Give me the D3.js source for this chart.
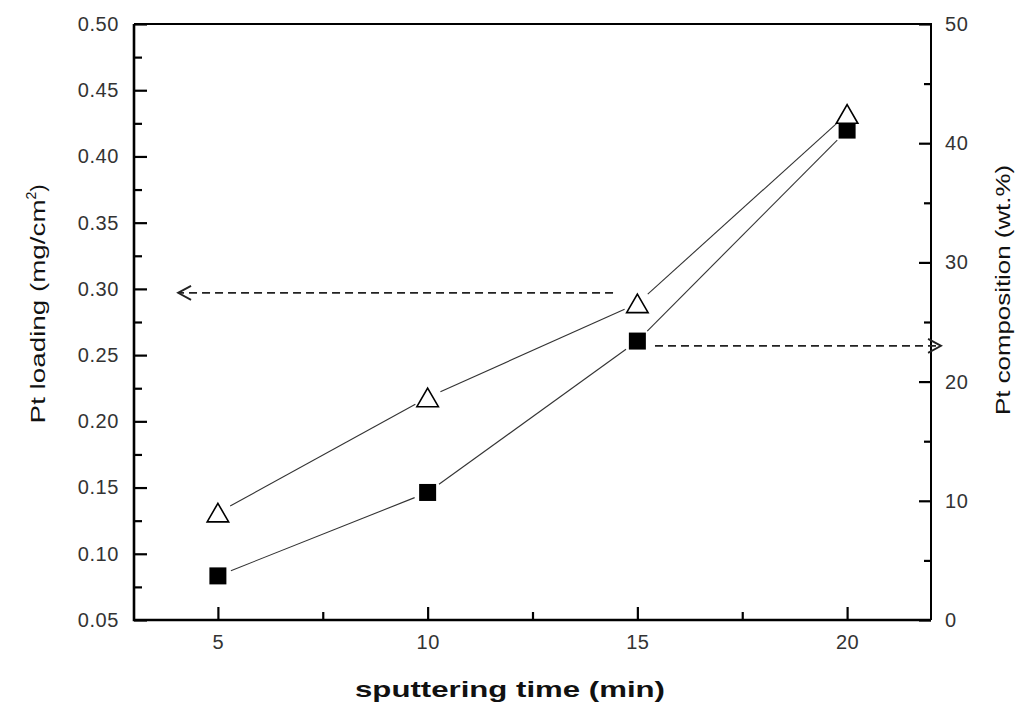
<!DOCTYPE html>
<html>
<head>
<meta charset="utf-8">
<script src="https://cdnjs.cloudflare.com/ajax/libs/d3/7.8.5/d3.min.js"></script>
<style>
  body { margin: 0; background: #fff; }
  svg { display: block; }
  .tick text { font-family: "Liberation Sans", Arial, sans-serif; font-size: 20px; fill: #333; letter-spacing: 0.6px; }
  .tick line { stroke: #000; stroke-width: 2.2; }
  .title { font-family: "Liberation Sans", Arial, sans-serif; fill: #111; }
</style>
</head>
<body>
<div id="chart"></div>
<script>
var width = 1025;
var height = 704;

// sputtering time (min)
var sputterTime = [5, 10, 15, 20];
// Pt loading (mg/cm2), open triangles, left axis
var ptLoading = [0.131, 0.218, 0.289, 0.432];
// Pt composition (wt.%), filled squares, right axis
var ptComposition = [3.7, 10.7, 23.4, 41.1];

var xTicks = [5, 10, 15, 20];
var xMinor = [7.5, 12.5, 17.5];
var leftTicks = [0.05, 0.10, 0.15, 0.20, 0.25, 0.30, 0.35, 0.40, 0.45, 0.50];
var leftMinor = [0.075, 0.125, 0.175, 0.225, 0.275, 0.325, 0.375, 0.425, 0.475];
var rightTicks = [0, 10, 20, 30, 40, 50];
var rightMinor = [5, 15, 25, 35, 45];

// arrows pointing at the axis each series belongs to
var loadingArrow = {x0: 14.42, x1: 4.05, y: 0.297};
var compositionArrow = {x0: 15.42, x1: 22.24, y: 23.0};

var margin = {top: 24, right: 94, bottom: 84, left: 134};

var svg = d3.select("#chart")
  .append("svg")
  .attr("width", width)
  .attr("height", height);

var xScale = d3.scaleLinear()
  .domain([3, 22])
  .range([margin.left, width - margin.right]);

var yLeft = d3.scaleLinear()
  .domain([0.05, 0.50])
  .range([height - margin.bottom, margin.top]);

var yRight = d3.scaleLinear()
  .domain([0, 50])
  .range([height - margin.bottom, margin.top]);

var bottomY = height - margin.bottom;
var rightX = width - margin.right;

function noDomain(g) { g.select(".domain").remove(); }

// bottom axis, ticks inward
svg.append("g")
  .attr("transform", "translate(0," + bottomY + ")")
  .call(d3.axisBottom(xScale).tickValues(xTicks).tickSize(-13).tickPadding(15).tickFormat(d3.format("d")))
  .call(noDomain);
svg.append("g")
  .attr("transform", "translate(0," + bottomY + ")")
  .call(d3.axisBottom(xScale).tickValues(xMinor).tickSize(-8).tickFormat(""))
  .call(noDomain);

// left axis
svg.append("g")
  .attr("transform", "translate(" + margin.left + ",0)")
  .call(d3.axisLeft(yLeft).tickValues(leftTicks).tickSize(-13).tickPadding(15).tickFormat(d3.format(".2f")))
  .call(noDomain);
svg.append("g")
  .attr("transform", "translate(" + margin.left + ",0)")
  .call(d3.axisLeft(yLeft).tickValues(leftMinor).tickSize(-8).tickFormat(""))
  .call(noDomain);

// right axis
svg.append("g")
  .attr("transform", "translate(" + rightX + ",0)")
  .call(d3.axisRight(yRight).tickValues(rightTicks).tickSize(-12).tickPadding(14).tickFormat(d3.format("d")))
  .call(noDomain);
svg.append("g")
  .attr("transform", "translate(" + rightX + ",0)")
  .call(d3.axisRight(yRight).tickValues(rightMinor).tickSize(-7).tickFormat(""))
  .call(noDomain);

// frame: top and right thinner, left and bottom axes heavier
var frame = svg.append("g").attr("stroke", "#000").attr("fill", "none");
frame.append("path")
  .attr("d", "M" + margin.left + "," + margin.top + "H" + rightX + "V" + bottomY)
  .attr("stroke-width", 2);
frame.append("path")
  .attr("d", "M" + margin.left + "," + margin.top + "V" + bottomY + "H" + rightX)
  .attr("stroke-width", 2.6);

// connecting lines with small gaps at the markers
function drawLinks(ys, yScale) {
  var pts = sputterTime.map(function(t, i) { return [xScale(t), yScale(ys[i])]; });
  var gap = 14;
  var segs = d3.pairs(pts).map(function(p) {
    var dx = p[1][0] - p[0][0], dy = p[1][1] - p[0][1];
    var len = Math.sqrt(dx * dx + dy * dy);
    var ux = dx / len, uy = dy / len;
    return [[p[0][0] + ux * gap, p[0][1] + uy * gap], [p[1][0] - ux * gap, p[1][1] - uy * gap]];
  });
  svg.append("g")
    .selectAll("line")
    .data(segs)
    .enter()
    .append("line")
    .attr("x1", function(d) { return d[0][0]; })
    .attr("y1", function(d) { return d[0][1]; })
    .attr("x2", function(d) { return d[1][0]; })
    .attr("y2", function(d) { return d[1][1]; })
    .attr("stroke", "#333")
    .attr("stroke-width", 1.1);
}
drawLinks(ptLoading, yLeft);
drawLinks(ptComposition, yRight);

// squares
svg.append("g")
  .selectAll("rect")
  .data(sputterTime)
  .enter()
  .append("rect")
  .attr("x", function(d) { return xScale(d) - 8.5; })
  .attr("y", function(d, i) { return yRight(ptComposition[i]) - 8.5; })
  .attr("width", 17)
  .attr("height", 17)
  .attr("fill", "#000");

// triangles (shifted so the box, not the centroid, sits on the value)
var tri = d3.symbol().type(d3.symbolTriangle).size(200);
svg.append("g")
  .selectAll("path")
  .data(sputterTime)
  .enter()
  .append("path")
  .attr("d", tri)
  .attr("transform", function(d, i) { return "translate(" + xScale(d) + "," + (yLeft(ptLoading[i]) + 3) + ")"; })
  .attr("fill", "#fff")
  .attr("stroke", "#000")
  .attr("stroke-width", 1.6);

// dashed arrows
function drawArrow(a, yScale) {
  var x0 = xScale(a.x0), x1 = xScale(a.x1), y = yScale(a.y);
  var dir = x1 > x0 ? 1 : -1;
  var g = svg.append("g").attr("stroke", "#222").attr("fill", "none");
  g.append("line")
    .attr("x1", x0).attr("y1", y)
    .attr("x2", x1 - dir * 2).attr("y2", y)
    .attr("stroke-width", 1.8)
    .attr("stroke-dasharray", "8,5");
  g.append("path")
    .attr("d", "M" + (x1 - dir * 13) + "," + (y - 7) + "L" + x1 + "," + y + "L" + (x1 - dir * 13) + "," + (y + 7))
    .attr("stroke-width", 1.8);
}
drawArrow(loadingArrow, yLeft);
drawArrow(compositionArrow, yRight);

// axis titles (the original lettering is wide, so stretch to its measured length)
svg.append("text")
  .attr("class", "title")
  .attr("x", 510)
  .attr("y", 697)
  .attr("text-anchor", "middle")
  .attr("textLength", 310)
  .attr("lengthAdjust", "spacingAndGlyphs")
  .style("font-size", "22px")
  .style("font-weight", "bold")
  .text("sputtering time (min)");

var leftTitle = svg.append("text")
  .attr("class", "title")
  .attr("transform", "translate(45,304) rotate(-90)")
  .attr("text-anchor", "middle")
  .style("font-size", "21px");
leftTitle.append("tspan").attr("textLength", 224).attr("lengthAdjust", "spacingAndGlyphs").text("Pt loading (mg/cm");
leftTitle.append("tspan").attr("dy", -9).style("font-size", "14px").text("2");
leftTitle.append("tspan").attr("dy", 9).text(")");

svg.append("text")
  .attr("class", "title")
  .attr("transform", "translate(1010,290) rotate(-90)")
  .attr("text-anchor", "middle")
  .attr("textLength", 250)
  .attr("lengthAdjust", "spacingAndGlyphs")
  .style("font-size", "21px")
  .text("Pt composition (wt.%)");
</script>
</body>
</html>
